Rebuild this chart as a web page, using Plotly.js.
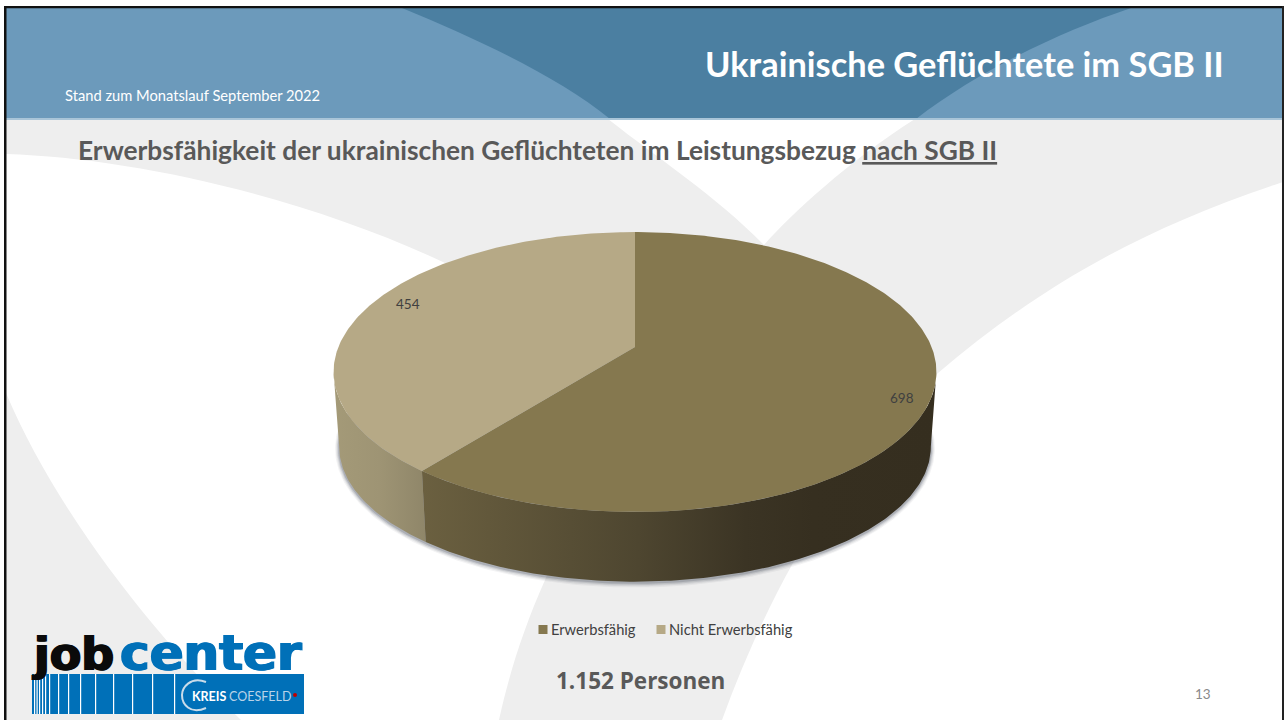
<!DOCTYPE html>
<html>
<head>
<meta charset="utf-8">
<script src="https://cdn.plot.ly/plotly-3.0.1.min.js"></script>
<style>html,body{margin:0;padding:0;background:#fff;overflow:hidden}#chart{width:1284px;height:720px}</style>
</head>
<body>
<div id="chart"></div>
<script>
// ---- chart data ----
const categories = ['Erwerbsfähig', 'Nicht Erwerbsfähig'];
const values = [698, 454];
const sliceColors = ['#85784f', '#b6a986'];
const slideTitle = 'Ukrainische Geflüchtete im SGB II';
const slideDate = 'Stand zum Monatslauf September 2022';
const chartTitle = 'Erwerbsfähigkeit der ukrainischen Geflüchteten im Leistungsbezug ';
const chartTitleUnderlined = 'nach SGB II';
const totalLabel = '1.152 Personen';
const pageNumber = '13';

// ---- perspective disc geometry (top face and bottom face of the 3D pie) ----
const topFace = {cx: 635, cy: 347, a: 296.6, b: 135.5, k: 0.1786};
const bottomFace = {cx: 635, cy: 422.5, a: 291, b: 130.5, k: 0.18};
function project(face, deg, grow) {
  const t = deg * Math.PI / 180, u = Math.sin(t), v = Math.cos(t), w = 1 + face.k * v, g = grow || 0;
  return [face.cx + (face.a + g) * u / w, face.cy - (face.b + g) * v / w];
}
function arc(face, from, to, grow) {
  const n = Math.max(2, Math.ceil(Math.abs(to - from) * 1.5)), pts = [];
  for (let i = 0; i <= n; i++) pts.push(project(face, from + (to - from) * i / n, grow));
  return pts;
}
const total = values.reduce((s, d) => s + d, 0);
const boundary = values[0] / total * 360;
const tangentR = Math.acos(-topFace.k) * 180 / Math.PI, tangentL = 360 - tangentR;
function area(pts, extra) {
  return Object.assign({type: 'scatter', mode: 'lines', x: pts.map(p => p[0]), y: pts.map(p => p[1]),
    fill: 'toself', line: {width: 0}, hoverinfo: 'skip', showlegend: false}, extra);
}
function wall(from, to, gradient) {
  const pts = arc(topFace, from, to).concat(arc(bottomFace, to, from));
  pts.push(pts[0]);
  return area(pts, {fillgradient: {type: 'horizontal', colorscale: gradient}});
}
function slice(from, to, color) {
  const pts = [[topFace.cx, topFace.cy]].concat(arc(topFace, from, to));
  pts.push(pts[0]);
  return area(pts, {fillcolor: color});
}
const traces = [];
[[4, 0.07], [3, 0.10], [2, 0.16], [1, 0.24]].forEach(s => {
  traces.push(area(arc(bottomFace, 0, 360, s[0]).map(p => [p[0], p[1] + 1]), {fillcolor: 'rgba(80,85,100,' + s[1] + ')'}));
});
traces.push(wall(boundary, tangentL, [[0, '#a49a78'], [0.5, '#9e9474'], [1, '#8f8669']]));
traces.push(wall(tangentR, boundary, [[0, '#6b6040'], [0.42, '#4e4630'], [0.63, '#3b3424'], [0.76, '#362f20'], [1, '#352e1f']]));
traces.push(slice(0, boundary, sliceColors[0]));
traces.push(slice(boundary, 360, sliceColors[1]));
categories.forEach((c, i) => traces.push({type: 'scatter', mode: 'markers', x: [null], y: [null], name: c,
  marker: {symbol: 'square', size: 9, color: sliceColors[i]}, hoverinfo: 'skip'}));

// ---- slide decoration ----
const GRAY = '#eeeeee', LIGHT = '#6c9abb', DARK = '#4b7fa1', BLUE = '#0070b8';
function path(d, fill, extra) {
  return Object.assign({type: 'path', xref: 'x', yref: 'y', path: d, fillcolor: fill, line: {width: 0}, layer: 'below'}, extra);
}
function rect(x0, y0, x1, y1, fill) {
  return {type: 'rect', xref: 'x', yref: 'y', x0, y0, x1, y1, fillcolor: fill, line: {width: 0}, layer: 'below'};
}
const shapes = [
  rect(6, 119, 1283, 720, GRAY),
  // white sweep, left
  path('M6,154 C130,158 300,195 443,262 C540,310 600,370 600,430 C600,490 560,540 545,580 C525,625 510,670 499,720 L241,720 C160,640 60,520 6,393 Z', '#ffffff'),
  // white wedge, top centre
  path('M608,119 C660,160 715,195 764,245 C790,215 850,160 915,119 Z', '#ffffff'),
  // white sweep, right
  path('M1283,182 C1130,232 1030,295 938,373 C860,445 780,560 722,720 L1283,720 Z', '#ffffff'),
  rect(6, 8, 1283, 119, LIGHT),
  path('M402,8 C480,40 560,78 610,119 L916,119 C980,70 1060,32 1131,8 Z', DARK),
  rect(6, 118, 1283, 120, '#a9c5d8'),
  // slide frame
  rect(4, 6, 6.5, 720, '#111111'),
  rect(4, 6, 1284, 8.2, '#111111'),
  rect(1282, 6, 1284, 720, '#222222'),
  // logo panel
  rect(32, 674, 304, 714, BLUE)
];
[34, 36.5, 39, 42, 45, 49, 58, 68, 80, 95, 113, 132, 152, 174].forEach(x => {
  shapes.push(rect(x, 674, x + 1.2, 714, '#ffffff'));
});
shapes.push({type: 'path', xref: 'x', yref: 'y', layer: 'below', line: {color: '#c9dcea', width: 2},
  path: 'M206,682 C190,676 182,688 182,695 C182,704 190,715 206,708'});
shapes.push({type: 'circle', xref: 'x', yref: 'y', x0: 293, x1: 297, y0: 693, y1: 697, fillcolor: '#c00000', line: {width: 0}, layer: 'below'});

// ---- text ----
const SANS = 'Lato, Carlito, sans-serif';
function note(text, x, y, anchor, size, color, family, shadow) {
  const font = {family: family || SANS, size, color};
  if (shadow) font.shadow = shadow;
  return {text, x, y, xref: 'x', yref: 'y', xanchor: anchor, yanchor: 'middle', showarrow: false,
    align: anchor, borderpad: 0, borderwidth: 0, font};
}
const annotations = [
  note(slideDate, 65, 95, 'left', 14.7, '#ffffff'),
  note('<b>' + slideTitle + '</b>', 1224, 63, 'right', 34.4, '#ffffff'),
  note('<b>' + chartTitle + '<span style="text-decoration:underline">' + chartTitleUnderlined + '</span></b>', 78, 150, 'left', 26.3, '#595959'),
  note(String(values[1]), 408, 304, 'center', 13.5, '#404040'),
  note(String(values[0]), 902, 398, 'center', 13.5, '#404040'),
  note('<b>' + totalLabel + '</b>', 556, 680, 'left', 22.5, '#595959', '"Open Sans", sans-serif'),
  note(pageNumber, 1203, 694, 'center', 13.5, '#8a8a8a'),
  note('<b>job</b>', 32, 654, 'left', 46, '#0a0a0a', '"DejaVu Sans", sans-serif', '1px 0 0 #0a0a0a, -1px 0 0 #0a0a0a'),
  note('<b>center</b>', 120, 653, 'left', 50, BLUE, '"DejaVu Sans", sans-serif', '1px 0 0 ' + BLUE + ', -1px 0 0 ' + BLUE),
  note('<b>KREIS</b>', 192, 696, 'left', 12.5, '#ffffff', SANS),
  note('COESFELD', 229, 696, 'left', 12.5, '#b9d3e8', SANS)
];

const layout = {
  width: 1284, height: 720,
  margin: {l: 0, r: 0, t: 0, b: 0, pad: 0},
  paper_bgcolor: '#ffffff', plot_bgcolor: 'rgba(0,0,0,0)',
  xaxis: {range: [0, 1284], visible: false, fixedrange: true},
  yaxis: {range: [720, 0], visible: false, fixedrange: true},
  shapes, annotations,
  showlegend: true,
  legend: {orientation: 'h', x: 511 / 1284, xanchor: 'left', y: 1 - 613.5 / 720, yanchor: 'top',
    bgcolor: 'rgba(0,0,0,0)', borderwidth: 0, itemclick: false, itemdoubleclick: false,
    font: {family: SANS, size: 14.7, color: '#404040'}}
};

Plotly.newPlot('chart', traces, layout, {displayModeBar: false, staticPlot: true}).then(gd => {
  gd.querySelectorAll('.legend .legendpoints').forEach(el => {
    el.setAttribute('transform', 'translate(12,0)');
  });
  const items = gd.querySelectorAll('.legend .traces');
  if (items.length === 2) {
    const m = /translate\(\s*([-\d.]+)[ ,]+([-\d.]+)/.exec(items[0].getAttribute('transform') || '');
    if (m) items[1].setAttribute('transform', 'translate(' + (parseFloat(m[1]) + 118) + ',' + m[2] + ')');
  }
});
</script>
</body>
</html>
